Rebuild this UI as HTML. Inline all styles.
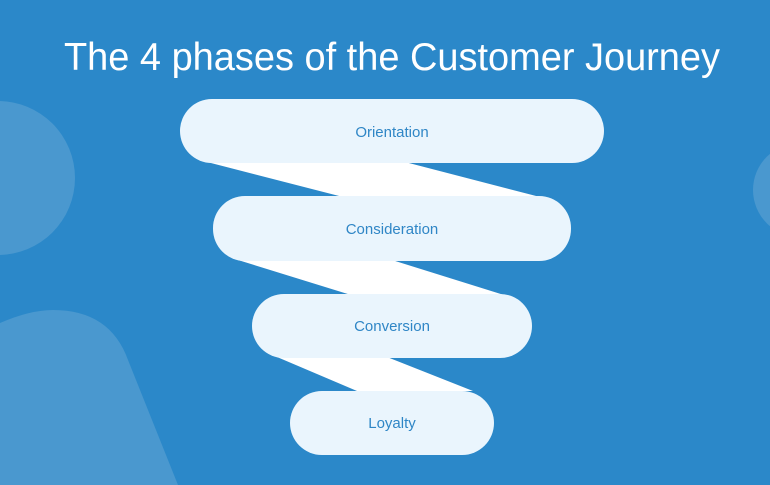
<!DOCTYPE html>
<html><head><style>html,body{margin:0;padding:0;background:#2b88c9;}</style></head>
<body>
<svg width="770" height="485" viewBox="0 0 770 485" xmlns="http://www.w3.org/2000/svg" style="display:block">
<rect width="770" height="485" fill="#2b88c9"/>
<circle cx="-2" cy="178" r="77" fill="#4a98cf"/>
<circle cx="800" cy="190" r="47" fill="#4a98cf"/>
<path d="M0 323 Q30 310 53 310 Q110 310 128 360 L178 485 L0 485 Z" fill="#4a98cf"/>
<text x="64" y="70" textLength="656" lengthAdjust="spacingAndGlyphs" font-family="Liberation Sans, sans-serif" font-size="39" fill="#fff">The 4 phases of the Customer Journey</text>
<polygon points="207,162 405,162 540,197 343,197" fill="#fff"/>
<polygon points="238,260 392,260 504,295 351,295" fill="#fff"/>
<polygon points="277,357 387,357 473,391 357,391" fill="#fff"/>
<g fill="#eaf5fd">
<rect x="180" y="99" width="424" height="64" rx="32"/>
<rect x="213" y="196" width="358" height="65" rx="32"/>
<rect x="252" y="294" width="280" height="64" rx="32"/>
<rect x="290" y="391" width="204" height="64" rx="32"/>
</g>
<g font-family="Liberation Sans, sans-serif" font-size="15" fill="#2f86c6" text-anchor="middle">
<text x="392" y="137">Orientation</text>
<text x="392" y="234">Consideration</text>
<text x="392" y="331">Conversion</text>
<text x="392" y="428">Loyalty</text>
</g>
</svg>
</body></html>
